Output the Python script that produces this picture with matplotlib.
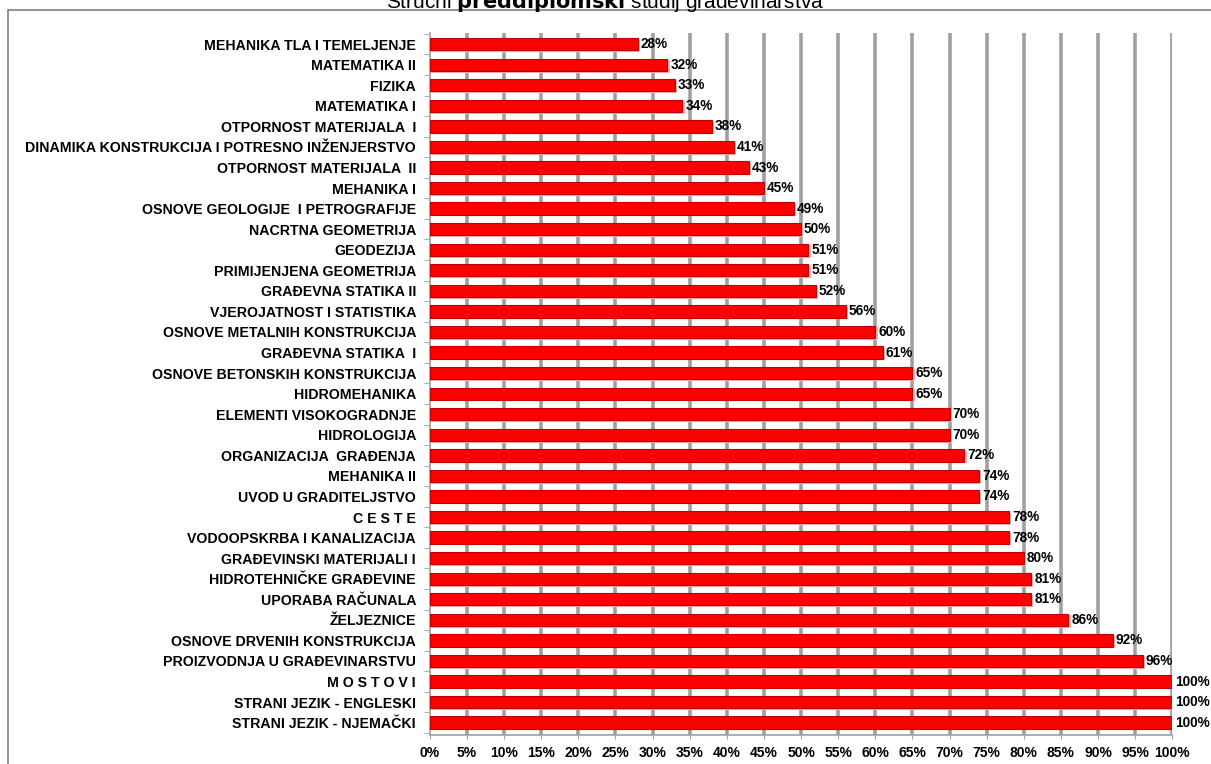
import matplotlib.pyplot as plt
from matplotlib.patches import Rectangle
import numpy as np

subjects = [
    "MEHANIKA TLA I TEMELJENJE", "MATEMATIKA II", "FIZIKA", "MATEMATIKA I",
    "OTPORNOST MATERIJALA  I", "DINAMIKA KONSTRUKCIJA I POTRESNO INŽENJERSTVO",
    "OTPORNOST MATERIJALA  II", "MEHANIKA I", "OSNOVE GEOLOGIJE  I PETROGRAFIJE",
    "NACRTNA GEOMETRIJA", "GEODEZIJA", "PRIMIJENJENA GEOMETRIJA",
    "GRAĐEVNA STATIKA II", "VJEROJATNOST I STATISTIKA",
    "OSNOVE METALNIH KONSTRUKCIJA", "GRAĐEVNA STATIKA  I",
    "OSNOVE BETONSKIH KONSTRUKCIJA", "HIDROMEHANIKA", "ELEMENTI VISOKOGRADNJE",
    "HIDROLOGIJA", "ORGANIZACIJA  GRAĐENJA", "MEHANIKA II",
    "UVOD U GRADITELJSTVO", "C E S T E", "VODOOPSKRBA I KANALIZACIJA",
    "GRAĐEVINSKI MATERIJALI I", "HIDROTEHNIČKE GRAĐEVINE", "UPORABA RAČUNALA",
    "ŽELJEZNICE", "OSNOVE DRVENIH KONSTRUKCIJA", "PROIZVODNJA U GRAĐEVINARSTVU",
    "M O S T O V I", "STRANI JEZIK - ENGLESKI", "STRANI JEZIK - NJEMAČKI",
]
percent = [28, 32, 33, 34, 38, 41, 43, 45, 49, 50, 51, 51, 52, 56, 60, 61, 65,
           65, 70, 70, 72, 74, 74, 78, 78, 80, 81, 81, 86, 92, 96, 100, 100, 100]
xticks = list(range(0, 101, 5))

plt.rcParams['font.family'] = ['Liberation Sans', 'DejaVu Sans']

fig = plt.figure(figsize=(12.11, 7.64), dpi=100)
ax = fig.add_axes([0.355, 0.038, 0.613, 0.919])

# outer frame of the chart area
fig.patches.append(Rectangle((8 / 1211, -0.05), 1.1, 1.05 - 10 / 764,
                             transform=fig.transFigure, fill=False,
                             edgecolor='#808080', linewidth=1.2))

fig.text(0.5, 0.998, "Stručni $\\bf{preddiplomski}$ studij građevinarstva",
         ha='center', va='center', fontsize=15)

y = np.arange(len(subjects))
# soft shadow, then bars
ax.barh(y + 0.08, [p + 0.3 for p in percent], height=0.6, color='#f2b0b0',
        linewidth=0, zorder=2)
ax.barh(y, percent, height=0.6, color='#ff0000', edgecolor='#c00000',
        linewidth=0.8, zorder=3)

for yi, v in zip(y, percent):
    ax.text(v + 0.4, yi, f"{v}%", va='center', ha='left', fontsize=9.8,
            fontweight='bold', zorder=4)

ax.set_xlim(0, 100)
ax.set_ylim(len(subjects) - 0.4, -0.55)
ax.set_yticks(y)
ax.set_yticklabels(subjects, fontsize=10.2, fontweight='bold')
ax.set_yticks(np.arange(len(subjects) + 1) - 0.5, minor=True)
ax.set_xticks(xticks)
ax.set_xticklabels([f"{t}%" for t in xticks], fontsize=10, fontweight='bold')

for t in xticks[1:]:
    ax.axvline(t, color='#a0a0a0', linewidth=2.6, zorder=1)

for s in ['top', 'right']:
    ax.spines[s].set_visible(False)
ax.spines['left'].set_color('#a0a0a0')
ax.spines['bottom'].set_color('#a0a0a0')
ax.spines['left'].set_linewidth(1.2)
ax.spines['bottom'].set_linewidth(1.2)
ax.tick_params(axis='y', which='major', length=0, pad=10)
ax.tick_params(axis='y', which='minor', length=4, color='#a0a0a0')
ax.tick_params(axis='x', length=3, color='#a0a0a0', pad=5)

fig.savefig('out.png', dpi=100)
